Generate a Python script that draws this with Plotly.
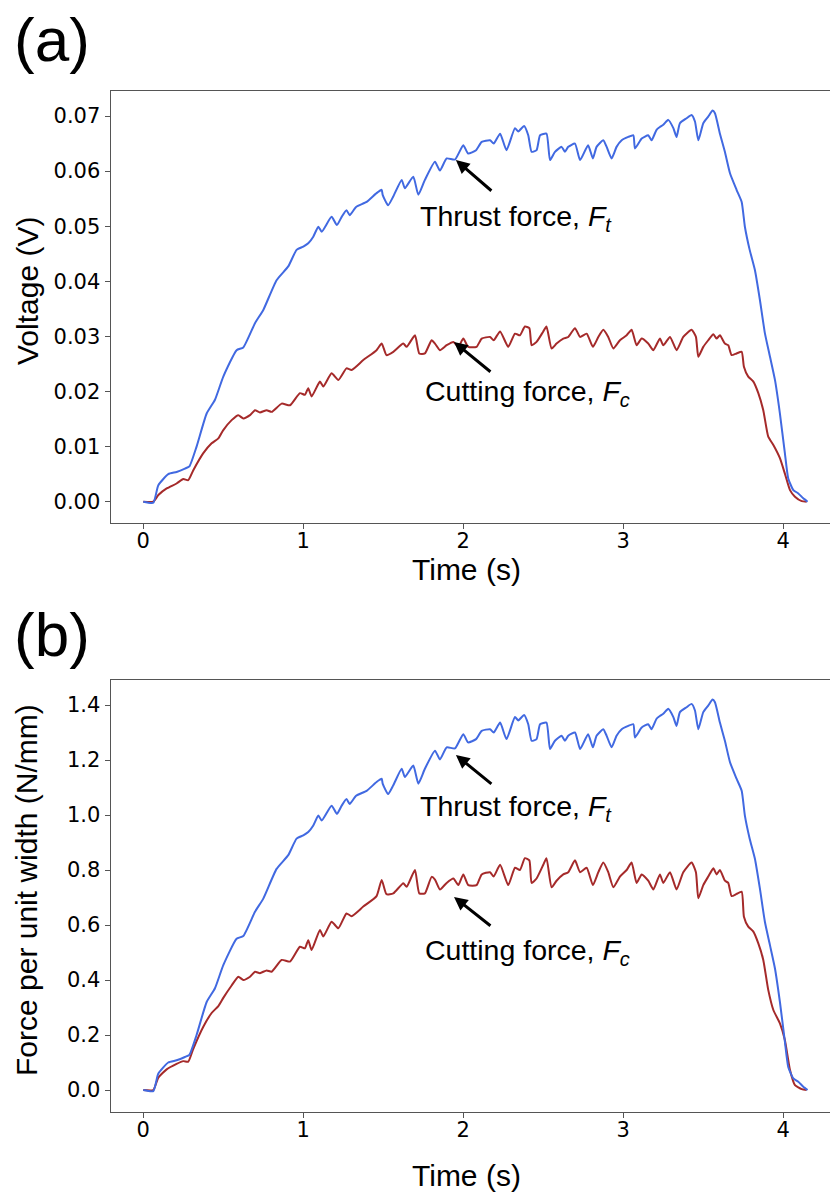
import plotly.graph_objects as go

# ---------------- data ----------------
t_blue = [0, 0.0625, 0.094, 0.156, 0.208, 0.26, 0.288, 0.333, 0.396, 0.448, 0.5, 0.583, 0.625, 0.698, 0.75,
          0.833, 0.906, 0.958, 1.0, 1.031, 1.0625, 1.094, 1.115, 1.177, 1.21, 1.24, 1.27, 1.29, 1.33, 1.396,
          1.458, 1.49, 1.496, 1.53, 1.5625, 1.615, 1.635, 1.6875, 1.719, 1.76, 1.823, 1.854, 1.896, 1.948, 2.0,
          2.03, 2.08, 2.115, 2.167, 2.19, 2.23, 2.27, 2.323, 2.344, 2.38, 2.406, 2.427, 2.458, 2.48, 2.52,
          2.542, 2.573, 2.615, 2.635, 2.656, 2.698, 2.73, 2.78, 2.81, 2.833, 2.875, 2.896, 2.927, 2.958, 2.99,
          3.031, 3.063, 3.073, 3.115, 3.156, 3.177, 3.208, 3.229, 3.25, 3.281, 3.313, 3.333, 3.354, 3.396, 3.427,
          3.448, 3.469, 3.5, 3.531, 3.558, 3.573, 3.604, 3.635, 3.667, 3.708, 3.74, 3.76, 3.79, 3.823, 3.854,
          3.885, 3.917, 3.948, 3.979, 4.01, 4.031, 4.063, 4.094, 4.125, 4.152]

thrust_voltage = [0, -0.0002, 0.003, 0.005, 0.0054, 0.006, 0.0064, 0.01, 0.016, 0.0185, 0.0227, 0.0275, 0.028,
                  0.0324, 0.0348, 0.0402, 0.0427, 0.0457, 0.0463, 0.0469, 0.0481, 0.0499, 0.049, 0.0517, 0.0502,
                  0.0517, 0.0529, 0.052, 0.0535, 0.0544, 0.056, 0.0566, 0.0557, 0.0538, 0.0554, 0.0584, 0.0569,
                  0.059, 0.0557, 0.0584, 0.0617, 0.0601, 0.0623, 0.0621, 0.0647, 0.0632, 0.0638, 0.0653, 0.0656,
                  0.065, 0.0668, 0.0638, 0.0678, 0.0672, 0.0682, 0.0665, 0.0635, 0.0638, 0.0665, 0.0668, 0.062,
                  0.0635, 0.0644, 0.0635, 0.0644, 0.065, 0.062, 0.0647, 0.0623, 0.0644, 0.0656, 0.0644, 0.0623,
                  0.0644, 0.0656, 0.0662, 0.0665, 0.0641, 0.0659, 0.0665, 0.0656, 0.0675, 0.068, 0.0684, 0.0693,
                  0.0678, 0.0662, 0.0687, 0.0696, 0.0702, 0.069, 0.0656, 0.0687, 0.0699, 0.071, 0.0705, 0.0668,
                  0.0635, 0.0596, 0.0566, 0.0544, 0.0499, 0.0457, 0.042, 0.0366, 0.0306, 0.0263, 0.0221, 0.016,
                  0.0088, 0.0042, 0.0021, 0.0015, 0.0006, 0.0]

thrust_force = [0, -0.004, 0.06, 0.1, 0.108, 0.12, 0.128, 0.2, 0.32, 0.37, 0.454, 0.55, 0.56, 0.648, 0.696,
                0.804, 0.854, 0.914, 0.926, 0.938, 0.962, 0.998, 0.98, 1.034, 1.004, 1.034, 1.058, 1.04, 1.07,
                1.088, 1.12, 1.132, 1.114, 1.076, 1.108, 1.168, 1.138, 1.18, 1.114, 1.168, 1.234, 1.202, 1.246,
                1.242, 1.294, 1.264, 1.276, 1.306, 1.312, 1.30, 1.336, 1.276, 1.356, 1.344, 1.364, 1.33, 1.27,
                1.276, 1.33, 1.336, 1.24, 1.27, 1.288, 1.27, 1.288, 1.30, 1.24, 1.294, 1.246, 1.288, 1.312,
                1.288, 1.246, 1.288, 1.312, 1.324, 1.33, 1.282, 1.318, 1.33, 1.312, 1.35, 1.36, 1.368, 1.386,
                1.356, 1.324, 1.374, 1.392, 1.404, 1.38, 1.312, 1.374, 1.398, 1.42, 1.41, 1.336, 1.27, 1.192,
                1.132, 1.088, 0.998, 0.914, 0.84, 0.732, 0.612, 0.526, 0.442, 0.32, 0.176, 0.084, 0.042, 0.03,
                0.012, 0.0]

t_red = [0, 0.0625, 0.094, 0.146, 0.208, 0.25, 0.281, 0.3125, 0.375, 0.427, 0.469, 0.5, 0.552, 0.594, 0.625,
         0.667, 0.698, 0.729, 0.771, 0.802, 0.865, 0.917, 0.979, 1.01, 1.031, 1.052, 1.104, 1.125, 1.177, 1.219,
         1.27, 1.302, 1.375, 1.458, 1.49, 1.52, 1.5625, 1.625, 1.646, 1.698, 1.725, 1.76, 1.802, 1.823, 1.854,
         1.896, 1.938, 1.969, 2.0, 2.031, 2.083, 2.115, 2.167, 2.19, 2.23, 2.281, 2.323, 2.354, 2.385, 2.413,
         2.427, 2.458, 2.5, 2.52, 2.552, 2.583, 2.625, 2.656, 2.698, 2.73, 2.771, 2.81, 2.844, 2.875, 2.906,
         2.938, 2.979, 3.021, 3.052, 3.083, 3.115, 3.156, 3.188, 3.229, 3.25, 3.292, 3.333, 3.375, 3.427, 3.454,
         3.469, 3.5, 3.531, 3.563, 3.583, 3.604, 3.635, 3.656, 3.677, 3.708, 3.74, 3.754, 3.781, 3.813, 3.844,
         3.875, 3.906, 3.938, 3.979, 4.01, 4.042, 4.073, 4.115, 4.146]

cutting_voltage = [0, 0, 0.0012, 0.0024, 0.0033, 0.0041, 0.0039, 0.0057, 0.0088, 0.0106, 0.0115, 0.013, 0.0148,
                   0.0157, 0.0151, 0.0157, 0.0166, 0.0162, 0.0166, 0.0163, 0.0178, 0.0175, 0.0197, 0.0194,
                   0.0206, 0.0191, 0.0218, 0.0209, 0.0233, 0.0221, 0.0242, 0.0239, 0.0257, 0.0275, 0.0287,
                   0.0266, 0.0272, 0.0287, 0.0281, 0.0302, 0.0269, 0.0269, 0.0293, 0.0287, 0.0275, 0.0284, 0.029,
                   0.0281, 0.0296, 0.0281, 0.0281, 0.0296, 0.0299, 0.0293, 0.0309, 0.0281, 0.0305, 0.0302,
                   0.0318, 0.0315, 0.0284, 0.029, 0.0309, 0.0318, 0.0278, 0.0287, 0.0296, 0.0299, 0.0315, 0.0299,
                   0.0305, 0.0281, 0.0299, 0.0312, 0.0299, 0.0278, 0.0293, 0.0302, 0.0312, 0.0284, 0.0296, 0.0287,
                   0.0275, 0.0296, 0.0284, 0.0299, 0.0275, 0.0299, 0.0312, 0.0299, 0.0263, 0.0281, 0.0293, 0.0304,
                   0.0296, 0.0302, 0.0287, 0.0284, 0.0266, 0.0269, 0.0272, 0.0245, 0.0227, 0.0218, 0.0197, 0.0166,
                   0.0118, 0.0103, 0.0079, 0.0051, 0.0021, 0.0009, 0.0001, 0]

cutting_force = [0, 0, 0.045, 0.075, 0.095, 0.105, 0.103, 0.15, 0.23, 0.28, 0.305, 0.335, 0.38, 0.412, 0.40,
                 0.412, 0.43, 0.425, 0.435, 0.43, 0.473, 0.467, 0.521, 0.515, 0.545, 0.509, 0.582, 0.558, 0.612,
                 0.588, 0.642, 0.632, 0.667, 0.705, 0.764, 0.712, 0.715, 0.752, 0.739, 0.80, 0.715, 0.715, 0.775,
                 0.765, 0.729, 0.753, 0.769, 0.745, 0.784, 0.745, 0.745, 0.784, 0.792, 0.776, 0.819, 0.745, 0.808,
                 0.80, 0.843, 0.835, 0.753, 0.769, 0.819, 0.843, 0.737, 0.761, 0.784, 0.792, 0.835, 0.792, 0.808,
                 0.745, 0.792, 0.827, 0.792, 0.737, 0.776, 0.80, 0.827, 0.753, 0.784, 0.761, 0.729, 0.784, 0.753,
                 0.792, 0.729, 0.792, 0.827, 0.792, 0.697, 0.745, 0.776, 0.806, 0.784, 0.80, 0.761, 0.753, 0.705,
                 0.713, 0.721, 0.63, 0.594, 0.576, 0.533, 0.473, 0.364, 0.291, 0.242, 0.182, 0.073, 0.018, 0.003, 0]

x_ticks = [0, 1, 2, 3, 4]
y_ticks_a = [0.00, 0.01, 0.02, 0.03, 0.04, 0.05, 0.06, 0.07]
y_ticks_b = [0.0, 0.2, 0.4, 0.6, 0.8, 1.0, 1.2, 1.4]

# ---------------- figure ----------------
BLUE = "royalblue"
RED = "#a52a2a"
W, H = 830, 1195

def line(color):
    return dict(color=color, width=2, shape="spline", smoothing=0.5)

fig = go.Figure()
fig.add_trace(go.Scatter(x=t_red, y=cutting_voltage, mode="lines", line=line(RED),
                         xaxis="x", yaxis="y", showlegend=False))
fig.add_trace(go.Scatter(x=t_blue, y=thrust_voltage, mode="lines", line=line(BLUE),
                         xaxis="x", yaxis="y", showlegend=False))
fig.add_trace(go.Scatter(x=t_red, y=cutting_force, mode="lines", line=line(RED),
                         xaxis="x2", yaxis="y2", showlegend=False))
fig.add_trace(go.Scatter(x=t_blue, y=thrust_force, mode="lines", line=line(BLUE),
                         xaxis="x2", yaxis="y2", showlegend=False))

tickfont = dict(family="DejaVu Sans", size=21, color="black")
axcommon = dict(showgrid=False, zeroline=False, showline=True, linecolor="#555", linewidth=1,
                ticks="outside", ticklen=5, tickwidth=1, tickcolor="#555", tickfont=tickfont)

xdom = [110.5 / W, 1.0]
fig.update_layout(
    width=W, height=H, margin=dict(l=0, r=0, t=0, b=0),
    paper_bgcolor="white", plot_bgcolor="white",
    xaxis=dict(domain=xdom, range=[-0.205, 4.292], tickvals=x_ticks, anchor="y", mirror=True,
               ticklabelstandoff=-6, **axcommon),
    yaxis=dict(domain=[(H - 523) / H, (H - 91) / H], range=[-0.00387, 0.07454], tickvals=y_ticks_a,
               tickformat=".2f", anchor="x", **axcommon),
    xaxis2=dict(domain=xdom, range=[-0.205, 4.292], tickvals=x_ticks, anchor="y2", mirror=True,
                ticklabelstandoff=-6, **axcommon),
    yaxis2=dict(domain=[(H - 1111.7) / H, (H - 680) / H], range=[-0.0789, 1.4909], tickvals=y_ticks_b,
                tickformat=".1f", anchor="x2", **axcommon),
)

lab = dict(family="Liberation Sans, Arial", size=28.5, color="black")
ttl = dict(family="Liberation Sans, Arial", size=30, color="black")
ann = []
# panel labels
ann.append(dict(text="(a)", x=12 / W, y=1 - 40 / H, xref="paper", yref="paper", xanchor="left", yanchor="middle",
                showarrow=False, font=dict(family="Liberation Sans, Arial", size=62, color="black")))
ann.append(dict(text="(b)", x=12 / W, y=1 - 634 / H, xref="paper", yref="paper", xanchor="left", yanchor="middle",
                showarrow=False, font=dict(family="Liberation Sans, Arial", size=62, color="black")))
# axis titles
ann.append(dict(text="Time (s)", x=466 / W, y=1 - 569 / H, xref="paper", yref="paper", xanchor="center",
                yanchor="middle", showarrow=False, font=ttl))
ann.append(dict(text="Time (s)", x=466 / W, y=1 - 1175 / H, xref="paper", yref="paper", xanchor="center",
                yanchor="middle", showarrow=False, font=ttl))
ann.append(dict(text="Voltage (V)", x=27 / W, y=1 - 291 / H, xref="paper", yref="paper", xanchor="center",
                yanchor="middle", textangle=-90, showarrow=False, font=ttl))
ann.append(dict(text="Force per unit width (N/mm)", x=27 / W, y=1 - 890 / H, xref="paper", yref="paper",
                xanchor="center", yanchor="middle", textangle=-90, showarrow=False, font=ttl))

# arrows (tip -> tail in data coords)
arrows = [("x", "y", 1.954, 0.0620, 2.185, 0.0562),
          ("x", "y", 1.942, 0.0290, 2.179, 0.02336),
          ("x2", "y2", 1.954, 1.218, 2.185, 1.109),
          ("x2", "y2", 1.942, 0.702, 2.179, 0.593)]
for xr, yr, x0, y0, x1, y1 in arrows:
    ann.append(dict(x=x0, y=y0, ax=x1, ay=y1, xref=xr, yref=yr, axref=xr, ayref=yr, text="",
                    showarrow=True, arrowhead=2, arrowsize=0.9, arrowwidth=3, arrowcolor="black"))

labels = [("x", "y", 1.717, 0.0515, "Thrust force, <i>F</i><sub><i>t</i></sub>"),
          ("x", "y", 1.748, 0.0197, "Cutting force, <i>F</i><sub><i>c</i></sub>"),
          ("x2", "y2", 1.717, 1.025, "Thrust force, <i>F</i><sub><i>t</i></sub>"),
          ("x2", "y2", 1.748, 0.502, "Cutting force, <i>F</i><sub><i>c</i></sub>")]
for xr, yr, x0, y0, txt in labels:
    ann.append(dict(x=x0, y=y0, xref=xr, yref=yr, text=txt, showarrow=False, xanchor="left",
                    yanchor="middle", font=lab))

fig.update_layout(annotations=ann)
fig.write_html("out.html")
